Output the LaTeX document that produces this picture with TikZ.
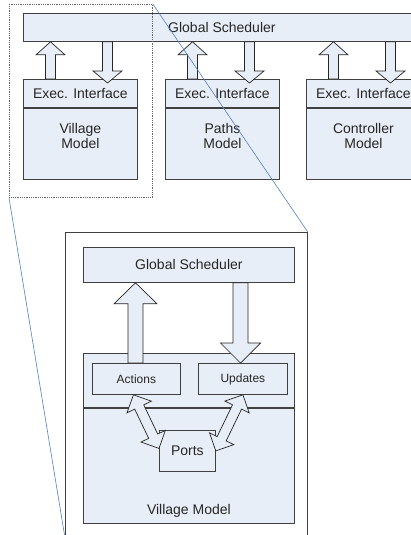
\documentclass[tikz,border=0pt]{standalone}
\usepackage{fontspec}
\setmainfont{Liberation Sans}
\usetikzlibrary{positioning,calc}
\definecolor{boxfill}{HTML}{E8EEF7}
\definecolor{zoomblue}{RGB}{79,129,189}

% block arrow: start, tip, shaft half width, head half width, head length
\newcommand{\fatarrow}[5]{%
  \coordinate (fa-h) at ($(#2)!#5!(#1)$);
  \draw[fat] ($(#1)!#3!90:(#2)$) -- ($(fa-h)!#3!90:(#2)$) -- ($(fa-h)!#4!90:(#2)$) -- (#2)
    -- ($(fa-h)!#4!-90:(#2)$) -- ($(fa-h)!#3!-90:(#2)$) -- ($(#1)!#3!-90:(#2)$) -- cycle;
}
% same with a head on both ends
\newcommand{\fatdarrow}[5]{%
  \coordinate (fa-a) at ($(#1)!#5!(#2)$);
  \coordinate (fa-b) at ($(#2)!#5!(#1)$);
  \draw[fat] (#1) -- ($(fa-a)!#4!90:(#2)$) -- ($(fa-a)!#3!90:(#2)$) -- ($(fa-b)!#3!90:(#2)$)
    -- ($(fa-b)!#4!90:(#2)$) -- (#2) -- ($(fa-b)!#4!-90:(#2)$) -- ($(fa-b)!#3!-90:(#2)$)
    -- ($(fa-a)!#3!-90:(#2)$) -- ($(fa-a)!#4!-90:(#2)$) -- cycle;
}

\begin{document}
\begin{tikzpicture}[
    x = 1pt, y = -1pt,
    font = \fontsize{14}{15.5}\selectfont,
    box/.style = {draw=black!75, fill=boxfill, line width=0.8pt, inner sep=0pt, text=black!85},
    hdr/.style = {box, anchor=north west, minimum width=114pt, minimum height=28pt},
    body/.style = {box, minimum width=114pt, minimum height=71pt},
    mtext/.style = {align=center, inner sep=0pt, text=black!85},
    small/.style = {box, anchor=north west, minimum height=31pt, font=\fontsize{12}{14}\selectfont},
    fat/.style = {draw=black!85, fill=boxfill, line width=0.7pt, line join=miter},
    zoomline/.style = {draw=zoomblue, line width=0.6pt}
]
    \useasboundingbox (0,0) rectangle (411,535);

    % top row
    \node[box, anchor=north west, minimum width=397pt, minimum height=28pt] (gs) at (23,13) {Global Scheduler};
    \foreach \n/\x/\m in {vil/23/Village, pth/165/Paths, ctl/306/Controller} {
        \node[hdr] (\n-ei) at (\x,79) {Exec. Interface};
        \node[body, below=0pt of \n-ei] (\n-bd) {};
        \node[mtext, below=15pt of \n-ei] (\n-lbl) {\m\\Model};
        \coordinate (\n-up) at ($(\n-ei.north west)+(27.5,0)$);
        \coordinate (\n-upt) at (\n-up |- gs.south);
        \coordinate (\n-dn) at ($(\n-ei.north west)+(84.5,4)$);
        \coordinate (\n-dnt) at (\n-dn |- gs.south);
        \fatarrow{\n-up}{\n-upt}{5pt}{14.5pt}{13pt}
        \fatarrow{\n-dnt}{\n-dn}{5pt}{14.5pt}{12pt}
    }

    % zoomed village model
    \node[draw=black!75, line width=0.8pt, anchor=north west, minimum width=242pt, minimum height=305pt] (detail) at (65,232) {};
    \node[box, anchor=north west, minimum width=211pt, minimum height=35pt] (gs2) at (83,247) {Global Scheduler};
    \node[box, anchor=north west, minimum width=211pt, minimum height=54pt] (vmh) at (83,353) {};
    \node[box, below=0pt of vmh, minimum width=211pt, minimum height=115pt] (vmb) {};
    \node[mtext, anchor=base] (vmlbl) at ($(vmb.south)+(0,-9)$) {Village Model};
    \node[small, minimum width=88pt] (act) at (92,363) {Actions};
    \node[small, minimum width=89pt] (upd) at (198,363) {Updates};
    \node[box, anchor=north west, minimum width=56pt, minimum height=41pt] (ports) at (159,430) {Ports};

    \coordinate (act-up) at ($(act.north west)+(43.5,0)$);
    \coordinate (act-upt) at (act-up |- gs2.south);
    \fatarrow{act-up}{act-upt}{7.5pt}{21.5pt}{21pt}
    \coordinate (upd-dn) at ($(upd.north west)+(42.5,0)$);
    \coordinate (upd-dnt) at (upd-dn |- gs2.south);
    \fatarrow{upd-dnt}{upd-dn}{7.5pt}{20pt}{20pt}
    \coordinate (act-pt) at ($(act.south)+(-3,0)$);
    \coordinate (ports-l) at ($(ports.west)+(0,-2.5)$);
    \fatdarrow{act-pt}{ports-l}{5pt}{13.5pt}{13.5pt}
    \fatdarrow{upd.south}{ports.east}{5pt}{13.5pt}{13.5pt}

    % selection and zoom lines
    \node[draw=black!60, densely dotted, line width=0.8pt, inner sep=0pt, anchor=north west,
          minimum width=143pt, minimum height=193pt] (sel) at (9,4) {};
    \draw[zoomline] (sel.north east) -- (detail.north east);
    \draw[zoomline] (sel.south west) -- (detail.south west);
\end{tikzpicture}
\end{document}
